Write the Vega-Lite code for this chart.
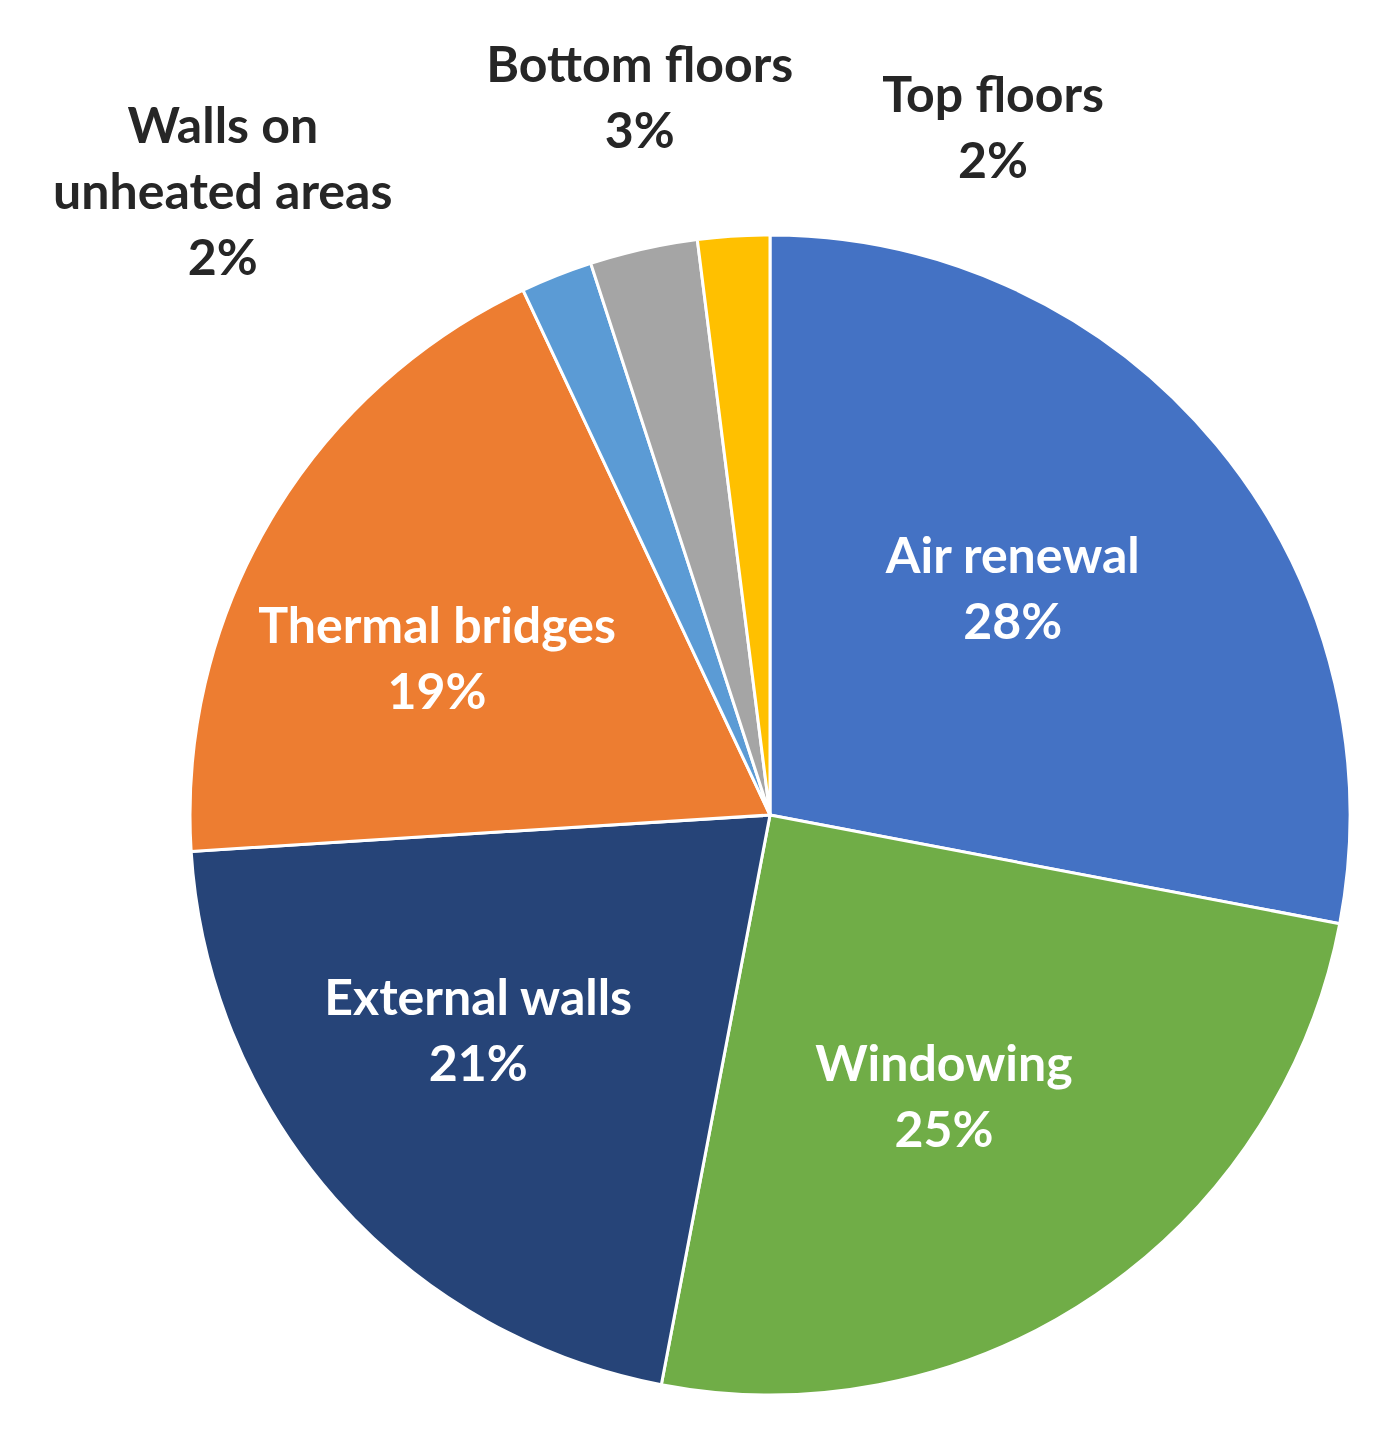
{
  "$schema": "https://vega.github.io/schema/vega-lite/v6.json",
  "width": 1228,
  "height": 1232,
  "autosize": {"type": "none"},
  "padding": {"left": 156, "top": 199, "right": 0, "bottom": 0},
  "background": "white",
  "config": {"view": {"stroke": null}, "text": {"font": "Lato", "fontWeight": "bold", "fontSize": 50, "lineHeight": 66, "lineBreak": "\n", "align": "center", "baseline": "middle"}},
  "data": {"values": [
    {"rank": 1, "category": "Air renewal", "value": 28, "label": "Air renewal\n28%"},
    {"rank": 2, "category": "Windowing", "value": 25, "label": "Windowing\n25%"},
    {"rank": 3, "category": "External walls", "value": 21, "label": "External walls\n21%"},
    {"rank": 4, "category": "Thermal bridges", "value": 19, "label": "Thermal bridges\n19%"},
    {"rank": 5, "category": "Walls on unheated areas", "value": 2, "label": "Walls on\nunheated areas\n2%"},
    {"rank": 6, "category": "Bottom floors", "value": 3, "label": "Bottom floors\n3%"},
    {"rank": 7, "category": "Top floors", "value": 2, "label": "Top floors\n2%"}
  ]},
  "encoding": {
    "theta": {"field": "value", "type": "quantitative", "stack": true},
    "order": {"field": "rank", "type": "quantitative"}
  },
  "layer": [
    {
      "mark": {"type": "arc", "outerRadius": 580, "stroke": "white", "strokeWidth": 3},
      "encoding": {
        "color": {
          "field": "category", "type": "nominal", "legend": null,
          "scale": {
            "domain": ["Air renewal", "Windowing", "External walls", "Thermal bridges", "Walls on unheated areas", "Bottom floors", "Top floors"],
            "range": ["#4472C4", "#70AD47", "#264478", "#ED7D31", "#5B9BD5", "#A5A5A5", "#FFC000"]
          }
        }
      }
    },
    {
      "mark": {"type": "text", "radius": 345, "dx": -23, "dy": -37, "fill": "white"},
      "encoding": {"text": {"condition": {"test": "datum.rank == 1", "field": "label"}, "value": ""}}
    },
    {
      "mark": {"type": "text", "radius": 345, "dx": -20, "dy": -34, "fill": "white"},
      "encoding": {"text": {"condition": {"test": "datum.rank == 2", "field": "label"}, "value": ""}}
    },
    {
      "mark": {"type": "text", "radius": 345, "dx": -33, "dy": -43, "fill": "white"},
      "encoding": {"text": {"condition": {"test": "datum.rank == 3", "field": "label"}, "value": ""}}
    },
    {
      "mark": {"type": "text", "radius": 345, "dx": -36, "dy": -11, "fill": "white"},
      "encoding": {"text": {"condition": {"test": "datum.rank == 4", "field": "label"}, "value": ""}}
    },
    {
      "mark": {"type": "text", "radius": 620, "dx": -319, "dy": -111, "fill": "#262626"},
      "encoding": {"text": {"condition": {"test": "datum.rank == 5", "field": "label"}, "value": ""}}
    },
    {
      "mark": {"type": "text", "radius": 620, "dx": 5, "dy": -143, "fill": "#262626"},
      "encoding": {"text": {"condition": {"test": "datum.rank == 6", "field": "label"}, "value": ""}}
    },
    {
      "mark": {"type": "text", "radius": 620, "dx": 262, "dy": -99, "fill": "#262626"},
      "encoding": {"text": {"condition": {"test": "datum.rank == 7", "field": "label"}, "value": ""}}
    }
  ]
}
